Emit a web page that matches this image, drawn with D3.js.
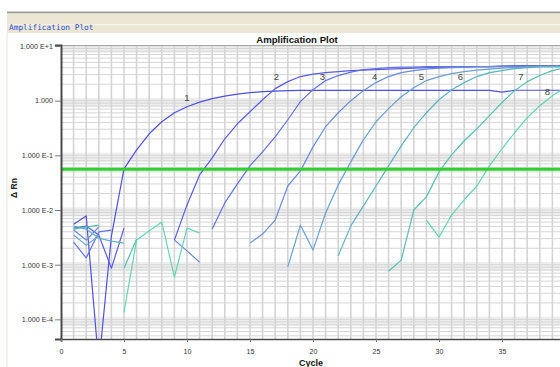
<!DOCTYPE html>
<html>
<head>
<meta charset="utf-8">
<script src="https://cdn.jsdelivr.net/npm/d3@7/dist/d3.min.js"></script>
<style>
  html, body { margin: 0; padding: 0; background: #ffffff; overflow: hidden; }
  svg { display: block; }
</style>
</head>
<body>
<svg id="chart" width="560" height="367"></svg>
<script>
// ---------------- DATA ----------------
const cycles = d3.range(1, 41);   // cycle numbers 1..40
const xTickValues = [0, 5, 10, 15, 20, 25, 30, 35];
const yTickValues = [10, 1, 0.1, 0.01, 0.001, 0.0001];
const yTickLabels = ["1.000 E+1", "1.000", "1.000 E-1", "1.000 E-2", "1.000 E-3", "1.000 E-4"];
const threshold = 0.0555;
const seriesNames = ["1", "2", "3", "4", "5", "6", "7", "8"];
const seriesColors = ["#4f4fe2", "#5a5ce6", "#6372e4", "#6b8cdc", "#6aa0d2", "#5fb2c4", "#55c0b2", "#62d6b4"];

// Delta Rn per cycle (null = negative value, not drawn on log scale)
const n = null;
const curve1 = [0.0055, 0.0078, 0.000015, 0.00334, 0.0565, 0.126, 0.248, 0.412, 0.602, 0.776,
  0.939, 1.088, 1.21, 1.315, 1.40, 1.46, 1.49, 1.525, 1.54, 1.54,
  1.54, 1.54, 1.54, 1.54, 1.54, 1.54, 1.54, 1.54, 1.54, 1.54,
  1.54, 1.54, 1.54, 1.54, 1.43, 1.55, 1.55, 1.55, 1.55, 1.55];
const curve2 = [0.00467, 0.0051, 0.00348, 0.00086, 0.00467, n, n, n, 0.00282, 0.0124,
  0.0439, 0.090, 0.201, 0.378, 0.628, 1.04, 1.66, 2.23, 2.76, 3.06,
  3.26, 3.40, 3.55, 3.63, 3.71, 3.78, 3.87, 3.95, 4.03, 4.03,
  4.12, 4.12, 4.21, 4.21, 4.30, 4.39, 4.39, 4.39, 4.39, 4.39];
const curve3 = [0.00259, 0.00133, 0.00398, 0.0043, n, n, n, n, n, n,
  n, 0.00448, 0.0135, 0.030, 0.0641, 0.116, 0.218, 0.448, 0.959, 1.59,
  2.33, 2.88, 3.33, 3.71, 3.87, 4.03, 4.12, 4.12, 4.21, 4.21,
  4.21, 4.21, 4.21, 4.21, 4.30, 4.30, 4.30, 4.30, 4.30, 4.30];
const curve4 = [0.0043, 0.00282, 0.0049, n, n, n, n, n, 0.00282, 0.00179,
  0.00111, n, n, n, 0.00248, 0.00363, 0.00656, 0.0275, 0.052, 0.143,
  0.334, 0.602, 1.0, 1.525, 2.14, 2.76, 3.26, 3.55, 3.78, 3.95,
  4.03, 4.12, 4.21, 4.21, 4.21, 4.21, 4.21, 4.30, 4.30, 4.30];
const curve5 = [0.00348, 0.00228, 0.00334, n, n, n, n, n, n, n,
  n, n, n, n, n, n, n, 0.00091, 0.00531, 0.00185,
  0.0088, 0.0288, 0.076, 0.192, 0.412, 0.714, 1.18, 1.73, 2.33, 2.76,
  3.13, 3.40, 3.63, 3.78, 3.95, 4.03, 4.12, 4.21, 4.21, 4.21];
const curve6 = [0.00508, 0.00448, 0.00306, 0.0027, 0.00248, n, n, n, n, n,
  n, n, n, n, n, n, n, n, n, n,
  n, 0.00145, 0.00513, 0.0119, 0.0275, 0.0641, 0.149, 0.32, 0.602, 1.04,
  1.59, 2.14, 2.76, 3.26, 3.55, 3.87, 4.03, 4.21, 4.21, 4.21];
const curve7 = [0.00448, 0.00488, 0.00531, n, 0.00086, 0.00294, n, n, n, n,
  n, n, n, n, n, n, n, n, n, n,
  n, n, n, n, n, 0.00076, 0.00121, 0.010, 0.0174, 0.0498,
  0.102, 0.185, 0.306, 0.531, 0.919, 1.525, 2.23, 2.88, 3.55, 4.03];
const curve8 = [0.0039, n, n, n, 0.000134, 0.00282, 0.00412, 0.00603, 0.00059, 0.00467,
  0.00379, n, n, n, n, n, n, n, n, n,
  n, n, n, n, n, n, n, n, 0.00656, 0.0032,
  0.0081, 0.0153, 0.0275, 0.0641, 0.132, 0.259, 0.488, 0.81, 1.235, 1.73];
const allCurves = [curve1, curve2, curve3, curve4, curve5, curve6, curve7, curve8];

// curve label anchors (cycle, value)
const labelCycles = [10.0, 17.1, 20.75, 24.9, 28.6, 31.7, 36.5, 38.6];
const labelValues = [0.98, 2.35, 2.35, 2.35, 2.35, 2.35, 2.35, 1.28];

// ---------------- CHART ----------------
const svg = d3.select("#chart");
const W = 560, H = 367;
const plot = { left: 61, right: 565, top: 45, bottom: 339 };

const x = d3.scaleLinear().domain([0, 40]).range([plot.left, plot.right]);
const y = d3.scaleLog().domain([4.375e-5, 10.43]).range([plot.bottom, plot.top]);

// window chrome
svg.append("rect").attr("x", 0).attr("y", 0).attr("width", W).attr("height", H).attr("fill", "#ffffff");
svg.append("rect").attr("x", 7).attr("y", 11.5).attr("width", W - 7).attr("height", 2).attr("fill", "#9c9c9c");
svg.append("rect").attr("x", 7).attr("y", 13.5).attr("width", W - 7).attr("height", 19.5).attr("fill", "#ece7d5");
svg.append("rect").attr("x", 7).attr("y", 24).attr("width", W - 7).attr("height", 1.2).attr("fill", "#f7f4ea");
svg.append("rect").attr("x", 6.5).attr("y", 33).attr("width", 1).attr("height", H - 33).attr("fill", "#e9e5d8");
svg.append("text").attr("x", 9).attr("y", 30)
  .attr("font-family", "DejaVu Sans Mono, monospace").attr("font-size", 7.8)
  .attr("fill", "#2f4fd0").text("Amplification Plot");

// chart title
svg.append("text").attr("x", 297).attr("y", 43).attr("text-anchor", "middle")
  .attr("font-family", "Liberation Sans, Arial, sans-serif").attr("font-weight", "bold")
  .attr("font-size", 9.6).attr("fill", "#111").text("Amplification Plot");

// clip
svg.append("defs").append("clipPath").attr("id", "clip")
  .append("rect").attr("x", plot.left).attr("y", plot.top)
  .attr("width", plot.right - plot.left).attr("height", plot.bottom - plot.top);

const g = svg.append("g").attr("clip-path", "url(#clip)");

// decade bands
yTickValues.forEach(d => {
  const y0 = y(d * 1.12), y1 = y(d * 0.76);
  g.append("rect").attr("x", plot.left).attr("width", plot.right - plot.left)
    .attr("y", y0).attr("height", y1 - y0).attr("fill", "#eeeeee");
});

// horizontal log grid
const hLines = [];
for (let k = -5; k <= 1; k++) for (let m = 1; m <= 9; m++) {
  const v = m * Math.pow(10, k);
  if (v >= y.domain()[0] && v <= y.domain()[1]) hLines.push(v);
}
g.selectAll("line.h").data(hLines).enter().append("line")
  .attr("x1", plot.left).attr("x2", plot.right)
  .attr("y1", d => y(d)).attr("y2", d => y(d))
  .attr("stroke", "#d6d6d6").attr("stroke-width", 1);

// vertical grid
g.selectAll("line.v").data(cycles).enter().append("line")
  .attr("x1", d => x(d)).attr("x2", d => x(d))
  .attr("y1", plot.top).attr("y2", plot.bottom)
  .attr("stroke", "#d4d4d4").attr("stroke-width", 1.6);

// curves
const line = d3.line()
  .defined(d => d.v != null)
  .x(d => x(d.c)).y(d => y(d.v));
allCurves.forEach((vals, i) => {
  const pts = cycles.map((c, j) => ({ c: c, v: vals[j] }));
  g.append("path").datum(pts).attr("d", line)
    .attr("fill", "none").attr("stroke", seriesColors[i])
    .attr("stroke-width", 1.2).attr("stroke-linejoin", "round");
});

// threshold
g.append("line").attr("x1", plot.left).attr("x2", plot.right)
  .attr("y1", y(threshold)).attr("y2", y(threshold))
  .attr("stroke", "#2ed12e").attr("stroke-width", 3);

// curve labels
svg.append("g").selectAll("text").data(seriesNames).enter().append("text")
  .attr("x", (d, i) => x(labelCycles[i]))
  .attr("y", (d, i) => y(labelValues[i]))
  .attr("text-anchor", "middle")
  .attr("font-family", "Liberation Sans, Arial, sans-serif").attr("font-size", 9.5)
  .attr("fill", "#444").text(d => d);

// frame
svg.append("line").attr("x1", plot.left).attr("x2", W).attr("y1", plot.top + 0.5).attr("y2", plot.top + 0.5)
  .attr("stroke", "#a8a8a8").attr("stroke-width", 1.2);

// axes
const yAxis = d3.axisLeft(y).tickValues(yTickValues)
  .tickFormat((d, i) => yTickLabels[i]).tickSize(6).tickPadding(2);
const ya = svg.append("g").attr("transform", `translate(${plot.left},0)`).call(yAxis);
ya.select(".domain").attr("stroke", "#4a4a4a").attr("stroke-width", 2);
ya.selectAll(".tick line").attr("stroke", "#777");
ya.selectAll(".tick text").attr("font-family", "Liberation Sans, Arial, sans-serif")
  .attr("font-size", 7.2).attr("fill", "#333");

const xAxis = d3.axisBottom(x).tickValues(xTickValues).tickSize(3).tickPadding(7);
const xa = svg.append("g").attr("transform", `translate(0,${plot.bottom})`).call(xAxis);
xa.select(".domain").attr("stroke", "#4a4a4a").attr("stroke-width", 1.6);
xa.selectAll(".tick line").attr("stroke", "#777");
xa.selectAll(".tick text").attr("font-family", "Liberation Sans, Arial, sans-serif")
  .attr("font-size", 7).attr("fill", "#333");

// axis titles
svg.append("text").attr("transform", "translate(17,188) rotate(-90)")
  .attr("text-anchor", "middle")
  .attr("font-family", "Liberation Sans, Arial, sans-serif").attr("font-weight", "bold")
  .attr("font-size", 8.5).attr("fill", "#222").text("Δ Rn");
svg.append("text").attr("x", 311).attr("y", 366).attr("text-anchor", "middle")
  .attr("font-family", "Liberation Sans, Arial, sans-serif").attr("font-weight", "bold")
  .attr("font-size", 9).attr("fill", "#111").text("Cycle");
</script>
</body>
</html>
